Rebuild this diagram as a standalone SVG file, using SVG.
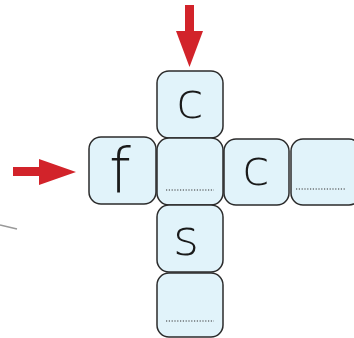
<svg xmlns="http://www.w3.org/2000/svg" width="354" height="338" viewBox="0 0 354 338">
<style>
.box{fill:#e1f3fa;stroke:#2b2b2b;stroke-width:1.5}
.t{font-family:"DejaVu Sans","Liberation Sans",sans-serif;font-weight:200;font-size:50px;fill:#1a1a1a;text-anchor:middle}
.dot{stroke:#333;stroke-width:1.2;stroke-dasharray:1.2 1.6}
.arr{fill:#d2232a}
</style>
<rect width="354" height="338" fill="#fff"/>
<g id="connectors">
<path class="arr" d="M185 5H194V31H203L189.5 67L176 31H185Z"/>
<path class="arr" d="M13 167H39V159L76 172L39 185V176H13Z"/>
<path d="M0 225L17 229" fill="none" stroke="#999" stroke-width="1.6"/>
</g>
<g id="n-top"><rect class="box" x="157" y="71" width="66" height="67" rx="12"/><text class="t" x="190" y="118">c</text></g>
<g id="n-f"><rect class="box" x="89" y="137" width="67" height="67" rx="12"/><text class="t" x="120" y="192" style="font-size:62px">f</text></g>
<g id="n-mid"><rect class="box" x="157" y="138" width="66" height="67" rx="12"/><line class="dot" x1="166" y1="190" x2="214" y2="190"/></g>
<g id="n-c2"><rect class="box" x="224" y="139" width="65" height="66" rx="12"/><text class="t" x="256" y="185">c</text></g>
<g id="n-last"><rect class="box" x="291" y="139" width="70" height="66" rx="12"/><line class="dot" x1="296" y1="189" x2="345" y2="189"/></g>
<g id="n-s"><rect class="box" x="157" y="205" width="66" height="67" rx="12"/><text class="t" x="186" y="255">s</text></g>
<g id="n-bot"><rect class="box" x="157" y="273" width="66" height="64" rx="12"/><line class="dot" x1="166" y1="321" x2="214" y2="321"/></g>
</svg>
